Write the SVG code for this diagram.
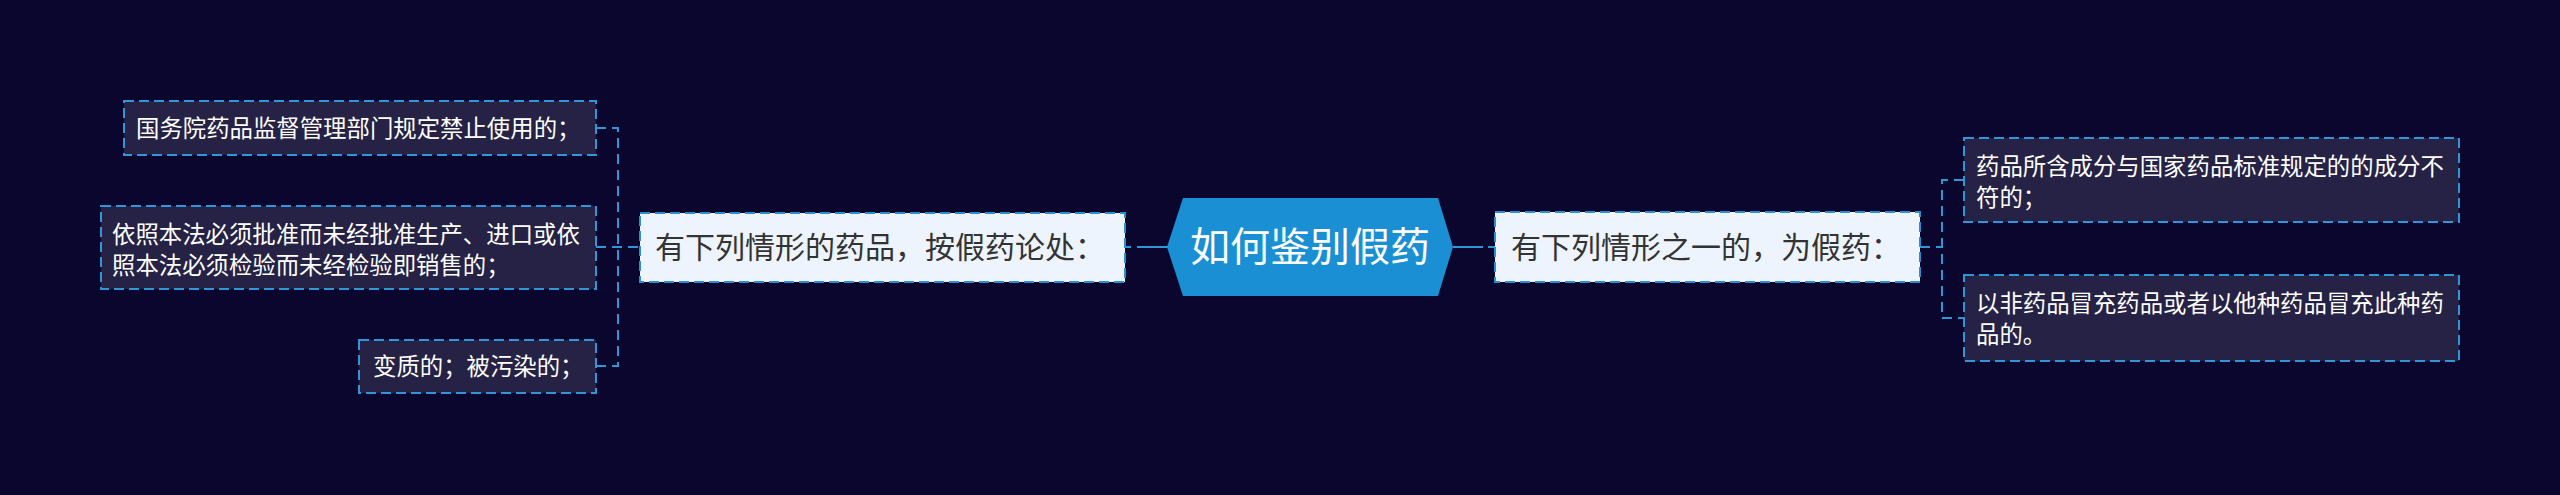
<svg xmlns="http://www.w3.org/2000/svg" width="2560" height="495" viewBox="0 0 2560 495">
<style>
.bg{fill:#0a062e}
.l1{fill:#eef4fd;stroke:#2a8fd0;stroke-width:2;stroke-dasharray:10 5}
.l2{fill:#252246;stroke:#2f96d8;stroke-width:2;stroke-dasharray:10 5}
.c{fill:none;stroke:#2f96d8;stroke-width:2;stroke-dasharray:10 6}
.cs{fill:none;stroke:#2f96d8;stroke-width:2}
.t{font-family:"Microsoft YaHei","Noto Sans CJK SC",sans-serif}
.t1{font-size:30px;fill:#333333}
.t2{font-size:23.4px;fill:#ffffff}
.t0{font-size:40px;fill:#ffffff}
</style>
<rect class="bg" x="0" y="0" width="2560" height="495"/>
<g id="connectors">
<path class="c" d="M596,128 H618 V366 H596"/>
<path class="c" d="M596,247 H640"/>
<path class="c" d="M1920,247 H1942"/>
<path class="c" d="M1964,180 H1942 V318 H1964"/>
<path class="cs" d="M1125,247 H1131 M1137,247 H1168"/>
<path class="cs" d="M1453,247 H1483 M1488,247 H1495"/>
</g>
<g id="root">
<polygon points="1167,247 1183,198 1438,198 1453,247 1438,296 1183,296" fill="#1a8fd4"/>
<text class="t t0" x="1310" y="261" text-anchor="middle">如何鉴别假药</text>
</g>
<g id="left-main">
<rect class="l1" x="640" y="213" width="485" height="69"/>
<text class="t t1" x="655" y="258">有下列情形的药品，按假药论处：</text>
</g>
<g id="right-main">
<rect class="l1" x="1495" y="212" width="425" height="70"/>
<text class="t t1" x="1511" y="258">有下列情形之一的，为假药：</text>
</g>
<g id="left-a">
<rect class="l2" x="124" y="101" width="472" height="54"/>
<text class="t t2" x="136" y="137">国务院药品监督管理部门规定禁止使用的；</text>
</g>
<g id="left-b">
<rect class="l2" x="101" y="206" width="495" height="83"/>
<text class="t t2" x="112" y="243">依照本法必须批准而未经批准生产、进口或依</text>
<text class="t t2" x="112" y="274">照本法必须检验而未经检验即销售的；</text>
</g>
<g id="left-c">
<rect class="l2" x="359" y="340" width="237" height="53"/>
<text class="t t2" x="373" y="375">变质的；被污染的；</text>
</g>
<g id="right-d">
<rect class="l2" x="1964" y="138" width="495" height="84"/>
<text class="t t2" x="1976" y="175">药品所含成分与国家药品标准规定的的成分不</text>
<text class="t t2" x="1976" y="206">符的；</text>
</g>
<g id="right-e">
<rect class="l2" x="1964" y="275" width="495" height="86"/>
<text class="t t2" x="1976" y="312">以非药品冒充药品或者以他种药品冒充此种药</text>
<text class="t t2" x="1976" y="343">品的。</text>
</g>
</svg>
